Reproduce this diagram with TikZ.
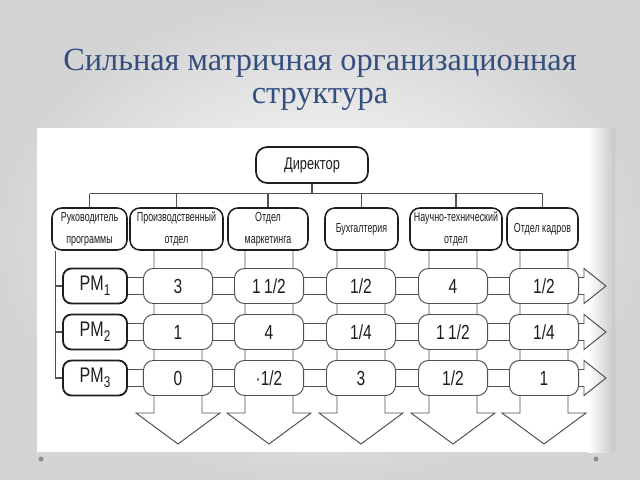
\documentclass[tikz,border=0pt]{standalone}
\usepackage{fontspec}
\setmainfont{Liberation Serif}
\newfontfamily\diagfont[FakeStretch=0.76]{Liberation Sans}
\newfontfamily\deptfont[FakeStretch=0.68]{Liberation Sans}
\usetikzlibrary{backgrounds}
\definecolor{titleblue}{RGB}{52,78,128}
\definecolor{ink}{RGB}{30,30,30}
\definecolor{lineink}{RGB}{80,80,80}
\definecolor{slidegray}{RGB}{212,212,212}
\def\pmsub#1{\raisebox{-0.45ex}{\fontsize{11}{11}\selectfont #1}}
\tikzset{
  title/.style={text=titleblue, font=\fontsize{23}{26}\selectfont, inner sep=0pt},
  boss/.style={draw=ink, line width=1.2pt, rounded corners=8pt, fill=white, inner sep=0pt,
    minimum width=28mm, minimum height=9mm, text=ink, font=\diagfont\fontsize{12}{13}\selectfont},
  dept/.style={draw=ink, line width=1.1pt, rounded corners=7pt, fill=white, inner sep=0pt,
    minimum height=10.5mm, align=center, text=ink, font=\deptfont\fontsize{9.3}{15.5}\selectfont},
  pmbox/.style={draw=ink, line width=1.3pt, rounded corners=6pt, fill=white, inner sep=0pt,
    minimum width=16mm, minimum height=8.75mm, text=ink, font=\diagfont\fontsize{15}{16}\selectfont},
  val/.style={draw=lineink, line width=0.7pt, rounded corners=7pt, fill=white, inner sep=0pt,
    minimum width=17.25mm, minimum height=8.75mm, text=ink, font=\diagfont\fontsize{14.5}{16}\selectfont},
  link/.style={draw=lineink, line width=0.8pt},
  band/.style={draw=lineink, line width=0.7pt, line join=miter},
}
\begin{document}
\begin{tikzpicture}[x=0.025cm, y=-0.025cm]
\useasboundingbox (0,0) rectangle (640,480);
% title
\node[title] (t1) at (320,63) {Сильная матричная организационная};
\node[title] (t2) at (320,99) {структура};
% top of the chart
\node[boss] (dir) at (312,165) {Директор};
\node[dept, minimum width=18.75mm] (rp) at (89.5,229) {Руководитель\\программы};
\node[dept, minimum width=23.25mm] (pr) at (176.5,229) {Производственный\\отдел};
\node[dept, minimum width=20mm]    (mk) at (268,229) {Отдел\\маркетинга};
\node[dept, minimum width=18.25mm] (bh) at (361.5,229) {Бухгалтерия};
\node[dept, minimum width=23mm]    (nt) at (456,229) {Научно-технический\\отдел};
\node[dept, minimum width=17.75mm] (kd) at (542.5,229) {Отдел кадров};
% program managers
\node[pmbox] (pm1) at (95,286) {PM\pmsub{1}};
\node[pmbox] (pm2) at (95,332) {PM\pmsub{2}};
\node[pmbox] (pm3) at (95,378) {PM\pmsub{3}};
% shares
\node[val] (pr1) at (178,286) {3};
\node[val] (mk1) at (269,286) {1\,1/2};
\node[val] (bh1) at (361,286) {1/2};
\node[val] (nt1) at (453,286) {4};
\node[val] (kd1) at (544,286) {1/2};
\node[val] (pr2) at (178,332) {1};
\node[val] (mk2) at (269,332) {4};
\node[val] (bh2) at (361,332) {1/4};
\node[val] (nt2) at (453,332) {1\,1/2};
\node[val] (kd2) at (544,332) {1/4};
\node[val] (pr3) at (178,378) {0};
\node[val] (mk3) at (269,378) {·1/2};
\node[val] (bh3) at (361,378) {3};
\node[val] (nt3) at (453,378) {1/2};
\node[val] (kd3) at (544,378) {1};
% tree lines
\draw[link] (dir.south) -- ++(0,10) coordinate (bus);
\draw[link] (rp.north |- bus) -- (kd.north |- bus);
\foreach \d in {rp,pr,mk,bh,nt,kd}
  \draw[link] (\d.north) -- (\d.north |- bus);
\coordinate (lv) at ([shift={(4,0)}]rp.south west);
\draw[link] (lv) |- (pm3.west);
\draw[link] (lv |- pm1.west) -- (pm1.west);
\draw[link] (lv |- pm2.west) -- (pm2.west);
\begin{pgfonlayer}{background}
  % slide and scanned sheet
  \shade[inner color=white, outer color=slidegray] (0,0) rectangle (640,480);
  \fill[white] (37,128) rectangle (615,452);
  \shade[left color=white, right color=black!22] (588,128) rectangle (615,452);
  \fill[black!45] (41,459) circle (2.5);
  \fill[black!45] (596,459) circle (2.5);
  % wide arrows down the departments
  \foreach \d in {pr,mk,bh,nt,kd}
    \draw[band] ([shift={(-24,-18)}]\d1.north) -- ([shift={(-24,17)}]\d3.south)
      -- ++(-18,0) -- ([shift={(0,48)}]\d3.south) -- ([shift={(42,17)}]\d3.south)
      -- ++(-18,0) -- ([shift={(24,-18)}]\d1.north);
  % wide arrows along the programs
  \foreach \r in {1,2,3}
    \draw[band] ([shift={(0,-8.5)}]pm\r.east) -- ([shift={(5,-8.5)}]kd\r.east)
      -- ++(0,-9) -- ([shift={(27,0)}]kd\r.east) -- ([shift={(5,17.5)}]kd\r.east)
      -- ++(0,-9) -- ([shift={(0,8.5)}]pm\r.east);
\end{pgfonlayer}
\end{tikzpicture}
\end{document}
